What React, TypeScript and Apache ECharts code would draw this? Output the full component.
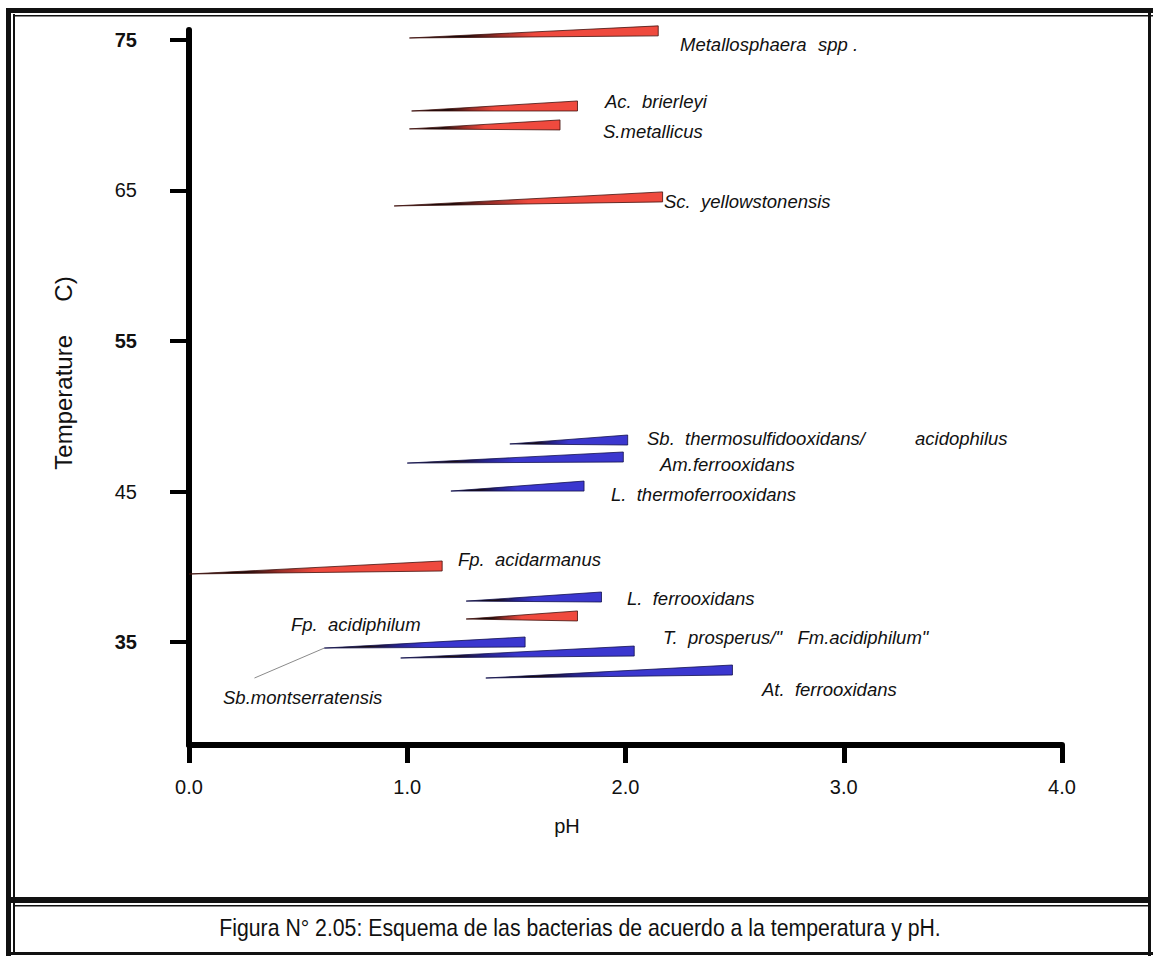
import React, { useEffect, useRef } from "react";
import * as echarts from "echarts";

// ---- data ----
const speciesNames = [
  "Metallosphaera spp.",
  "Ac. brierleyi",
  "S.metallicus",
  "Sc. yellowstonensis",
  "Sb. thermosulfidooxidans/acidophilus",
  "Am.ferrooxidans",
  "L. thermoferrooxidans",
  "Fp. acidarmanus",
  "L. ferrooxidans",
  "Fp. acidiphilum",
  "Sb.montserratensis",
  "T. prosperus/\"Fm.acidiphilum\"",
  "At. ferrooxidans",
];
const phMin = [1.01, 1.02, 1.01, 0.94, 1.47, 1.0, 1.2, 0.0, 1.27, 1.27, 0.62, 0.97, 1.36];
const phMax = [2.15, 1.78, 1.7, 2.17, 2.01, 1.99, 1.81, 1.16, 1.89, 1.78, 1.54, 2.04, 2.49];
const tempTip = [75.13, 70.28, 69.09, 63.97, 48.16, 46.89, 45.03, 39.52, 37.72, 36.53, 34.6, 33.94, 32.61];
const tempEnd = [75.27, 70.28, 69.02, 64.24, 48.09, 46.96, 45.03, 39.72, 37.66, 36.4, 34.67, 34.07, 32.81];
// 0 = red group, 1 = blue group
const colorGroup = [0, 0, 0, 0, 1, 1, 1, 0, 1, 0, 1, 1, 1];
const leaderLine = [
  [0.3, 32.61],
  [0.62, 34.6],
];
const xTicks = [0, 1, 2, 3, 4];
const yTicks = [35, 45, 55, 65, 75];
const boldYTicks = [35, 55, 75];

// ---- label layout (pixels) ----
const labelLayout: [string, number, number][] = [
  ["Metallosphaera", 680, 44],
  ["spp .", 818, 44],
  ["Ac.  brierleyi", 605, 101],
  ["S.metallicus", 603, 131],
  ["Sc.  yellowstonensis", 664, 201],
  ["Sb.  thermosulfidooxidans/", 647, 438],
  ["acidophilus", 915, 438],
  ["Am.ferrooxidans", 660, 464],
  ["L.  thermoferrooxidans", 611, 494],
  ["Fp.  acidarmanus", 458, 559],
  ["L.  ferrooxidans", 627, 598],
  ["Fp.  acidiphilum", 291, 624],
  ["T.  prosperus/\"   Fm.acidiphilum\"", 663, 637],
  ["At.  ferrooxidans", 762, 689],
  ["Sb.montserratensis", 223, 697],
];

const RED = "#ef4a3e";
const BLUE = "#3b37cf";

export default function App() {
  const ref = useRef<HTMLDivElement>(null);
  useEffect(() => {
    if (!ref.current) return;
    const chart = echarts.init(ref.current, null, { renderer: "svg" });
    const wedgeData = speciesNames.map((n, i) => ({
      name: n,
      value: [phMin[i], phMax[i], tempTip[i], tempEnd[i], colorGroup[i]],
    }));

    const frame = [
      { x: 6, y: 8, w: 5, h: 948 },
      { x: 13, y: 14, w: 2, h: 940 },
      { x: 6, y: 8, w: 1147, h: 5 },
      { x: 13, y: 15, w: 1140, h: 1.5 },
      { x: 1148, y: 8, w: 3, h: 948 },
      { x: 11, y: 897, w: 1140, h: 6 },
      { x: 13, y: 905, w: 1138, h: 1.5 },
      { x: 6, y: 952, w: 1147, h: 3 },
    ];

    const graphics: any[] = [];
    frame.forEach((f) =>
      graphics.push({
        type: "rect",
        shape: { x: f.x, y: f.y, width: f.w, height: f.h },
        style: { fill: "#111" },
        silent: true,
      })
    );
    labelLayout.forEach(([t, x, y]) =>
      graphics.push({
        type: "text",
        x,
        y,
        style: {
          text: t,
          fill: "#111",
          font: "italic 18.5px Arial, 'Liberation Sans', sans-serif",
          textAlign: "left",
          textVerticalAlign: "middle",
        },
      })
    );
    graphics.push({
      type: "text",
      x: 567,
      y: 826,
      style: {
        text: "pH",
        fill: "#111",
        font: "20px Arial, 'Liberation Sans', sans-serif",
        textAlign: "center",
        textVerticalAlign: "middle",
      },
    });
    graphics.push({
      type: "text",
      x: 63,
      y: 373,
      rotation: Math.PI / 2,
      style: {
        text: "Temperature     C)",
        fill: "#111",
        font: "24px Arial, 'Liberation Sans', sans-serif",
        textAlign: "center",
        textVerticalAlign: "middle",
      },
    });
    graphics.push({
      type: "text",
      x: 580,
      y: 928,
      scaleX: 0.885,
      style: {
        text: "Figura N° 2.05: Esquema de las bacterias de acuerdo a la temperatura y pH.",
        fill: "#111",
        font: "24px Arial, 'Liberation Sans', sans-serif",
        textAlign: "center",
        textVerticalAlign: "middle",
      },
    });

    chart.setOption({
      animation: false,
      backgroundColor: "#fff",
      grid: { left: 189, right: 91, top: 30, bottom: 211, containLabel: false },
      xAxis: {
        type: "value",
        min: 0,
        max: 4,
        interval: 1,
        splitLine: { show: false },
        axisLine: { show: true, onZero: false, lineStyle: { color: "#000", width: 6 } },
        axisTick: { show: true, length: 18, lineStyle: { color: "#000", width: 5 }, customValues: xTicks },
        axisLabel: {
          margin: 32,
          fontSize: 20,
          color: "#111",
          fontFamily: "Arial, 'Liberation Sans', sans-serif",
          customValues: xTicks,
          formatter: (v: number) => v.toFixed(1),
        },
      },
      yAxis: {
        type: "value",
        min: 28.16,
        max: 75.66,
        splitLine: { show: false },
        axisLine: { show: true, onZero: false, lineStyle: { color: "#000", width: 6 } },
        axisTick: { show: true, length: 19, lineStyle: { color: "#000", width: 4 }, customValues: yTicks },
        axisLabel: {
          margin: 52,
          fontSize: 20,
          color: "#111",
          fontFamily: "Arial, 'Liberation Sans', sans-serif",
          customValues: yTicks,
          formatter: (v: number) => (boldYTicks.includes(Math.round(v)) ? `{b|${Math.round(v)}}` : `{n|${Math.round(v)}}`),
          rich: {
            b: { fontSize: 20, fontWeight: "bold", color: "#111", fontFamily: "Arial, 'Liberation Sans', sans-serif" },
            n: { fontSize: 20, fontWeight: "normal", color: "#111", fontFamily: "Arial, 'Liberation Sans', sans-serif" },
          },
        },
      },
      series: [
        {
          type: "line",
          data: leaderLine,
          symbol: "none",
          lineStyle: { color: "#8a8a8a", width: 1 },
          z: 1,
          silent: true,
        },
        {
          type: "custom",
          clip: false,
          z: 3,
          data: wedgeData,
          renderItem: (params: any, api: any) => {
            const p0 = api.coord([api.value(0), api.value(2)]);
            const p1 = api.coord([api.value(1), api.value(3)]);
            const th = 10;
            const isBlue = api.value(4) === 1;
            const col = isBlue ? BLUE : RED;
            const mid = isBlue ? "#25228a" : "#9a2e28";
            return {
              type: "polygon",
              shape: { points: [p0, [p1[0], p1[1]], [p1[0], p1[1] - th]] },
              style: {
                fill: {
                  type: "linear",
                  x: 0,
                  y: 0,
                  x2: 1,
                  y2: 0,
                  colorStops: [
                    { offset: 0, color: "#000" },
                    { offset: 0.22, color: "#180a0a" },
                    { offset: 0.36, color: mid },
                    { offset: 0.5, color: col },
                    { offset: 1, color: col },
                  ],
                },
                stroke: isBlue ? "#12104e" : "#40100c",
                lineWidth: 0.8,
              },
            };
          },
        },
      ],
      graphic: graphics,
    });
    return () => chart.dispose();
  }, []);
  return <div ref={ref} style={{ position: "fixed", left: 0, top: 0, width: 1153, height: 956 }} />;
}
